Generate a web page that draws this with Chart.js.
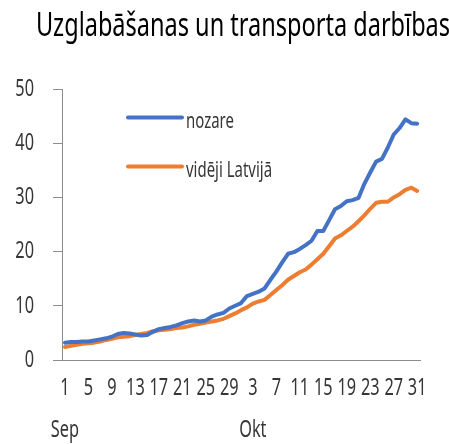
<!DOCTYPE html>
<html>
<head>
<meta charset="utf-8">
<script src="https://cdn.jsdelivr.net/npm/chart.js@4"></script>
<style>
  html, body { margin: 0; padding: 0; background: #fff; }
  #wrap { width: 449px; height: 444px; }
</style>
</head>
<body>
<div id="wrap"><canvas id="chart" width="449" height="444"></canvas></div>
<script>
// day of month for each point, Sep 1 .. Okt 31
const days = [
  1, 2, 3, 4, 5, 6, 7, 8, 9, 10, 11, 12, 13, 14, 15, 16, 17, 18, 19, 20,
  21, 22, 23, 24, 25, 26, 27, 28, 29, 30,
  1, 2, 3, 4, 5, 6, 7, 8, 9, 10, 11, 12, 13, 14, 15, 16, 17, 18, 19, 20,
  21, 22, 23, 24, 25, 26, 27, 28, 29, 30, 31
];
const months = ['Sep', 'Okt'];
const monthStarts = [0, 30];

const nozare = [
  3.2, 3.3, 3.3, 3.4, 3.4, 3.6, 3.8, 4.0, 4.3, 4.8,
  5.0, 4.9, 4.7, 4.5, 4.6, 5.2, 5.7, 5.9, 6.1, 6.4,
  6.8, 7.1, 7.3, 7.1, 7.3, 8.0, 8.4, 8.7, 9.5, 10.0,
  10.5, 11.8, 12.2, 12.6, 13.2, 14.8, 16.3, 18.0, 19.6, 19.9,
  20.5, 21.2, 22.0, 23.8, 23.8, 25.8, 27.8, 28.4, 29.3, 29.5,
  29.9, 32.5, 34.6, 36.6, 37.1, 39.2, 41.6, 42.8, 44.4, 43.7,
  43.6
];
const videjiLatvija = [
  2.4, 2.6, 2.8, 3.0, 3.1, 3.2, 3.4, 3.7, 3.9, 4.2,
  4.3, 4.4, 4.6, 4.8, 5.0, 5.3, 5.5, 5.6, 5.7, 5.9,
  6.0, 6.2, 6.5, 6.7, 6.9, 7.1, 7.3, 7.6, 8.1, 8.6,
  9.2, 9.7, 10.4, 10.8, 11.1, 12.0, 12.9, 13.8, 14.8, 15.5,
  16.2, 16.7, 17.6, 18.6, 19.6, 21.0, 22.4, 23.0, 23.8, 24.6,
  25.6, 26.7, 27.9, 29.0, 29.2, 29.2, 30.0, 30.6, 31.4, 31.8,
  31.2
];
const yTicks = [0, 10, 20, 30, 40, 50];
const title = 'Uzglabāšanas un transporta darbības';

const FONT = "'Noto Sans', 'Open Sans', sans-serif";
const TEXT = '#363636';
const AXIS = '#8c8c8c';
const NARROW = 0.68; // the original uses a condensed face
let squeeze = NARROW;

const canvas = document.getElementById('chart');
const c2d = canvas.getContext('2d');
// squeeze every label horizontally around its anchor point
const rawFillText = c2d.fillText.bind(c2d);
c2d.fillText = function (text, x, y) {
  this.save();
  this.translate(x, y);
  this.scale(squeeze, 1);
  rawFillText(text, 0, 0);
  this.restore();
};

function monthAt(i) {
  let m = 0;
  monthStarts.forEach((s, k) => { if (i >= s) m = k; });
  return months[m];
}

// title and legend placed like in the original
const decorations = {
  id: 'decorations',
  afterDraw(chart) {
    const { ctx, chartArea } = chart;
    ctx.save();
    ctx.fillStyle = '#000';
    ctx.font = '32px ' + FONT;
    ctx.textAlign = 'center';
    ctx.textBaseline = 'alphabetic';
    squeeze = 0.735;
    ctx.fillText(title, 243, 36);
    squeeze = NARROW;

    const x0 = chartArea.left + 66;
    const rows = [chartArea.top + 28.5, chartArea.top + 77.5];
    ctx.font = '22px ' + FONT;
    ctx.textAlign = 'left';
    ctx.fillStyle = TEXT;
    chart.data.datasets.forEach((ds, i) => {
      const y = rows[i];
      ctx.strokeStyle = ds.borderColor;
      ctx.lineWidth = 4;
      ctx.lineCap = 'round';
      ctx.beginPath();
      ctx.moveTo(x0, y);
      ctx.lineTo(x0 + 54, y);
      ctx.stroke();
      ctx.fillText(ds.label, x0 + 58, y + 10);
    });
    ctx.restore();
  }
};

new Chart(canvas, {
  type: 'line',
  data: {
    labels: days.map(String),
    datasets: [{
      label: 'nozare',
      data: nozare,
      borderColor: '#4472c4',
      borderWidth: 4,
      pointRadius: 0,
      tension: 0,
      borderJoinStyle: 'round',
      borderCapStyle: 'round'
    }, {
      label: 'vidēji Latvijā',
      data: videjiLatvija,
      borderColor: '#ed7d31',
      borderWidth: 4,
      pointRadius: 0,
      tension: 0,
      borderJoinStyle: 'round',
      borderCapStyle: 'round'
    }]
  },
  options: {
    responsive: false,
    animation: false,
    layout: { padding: { left: 0, right: 9, top: 89, bottom: 0 } },
    plugins: {
      legend: { display: false },
      tooltip: { enabled: false },
      title: { display: false }
    },
    scales: {
      x: {
        type: 'category',
        offset: true,
        afterFit(scale) { scale.height = 84; },
        grid: { display: false, drawTicks: false },
        border: { display: true, color: AXIS, width: 1 },
        ticks: {
          autoSkip: false,
          maxRotation: 0,
          padding: 18,
          color: TEXT,
          font: { family: FONT, size: 24, lineHeight: 0.875 },
          callback(value, index) {
            if (index % 4 !== 0) return null;
            const d = String(days[index]);
            const prev = index - 4;
            if (prev < 0 || monthAt(prev) !== monthAt(index)) {
              return [d, '', monthAt(index)];
            }
            return d;
          }
        }
      },
      y: {
        min: yTicks[0],
        max: yTicks[yTicks.length - 1],
        afterBuildTicks(scale) { scale.ticks = yTicks.map(v => ({ value: v })); },
        afterFit(scale) { scale.width = 62; },
        grid: { drawOnChartArea: false, drawTicks: true, tickLength: 9, color: AXIS, lineWidth: 1 },
        border: { display: true, color: AXIS, width: 1 },
        ticks: {
          padding: 19,
          color: TEXT,
          font: { family: FONT, size: 24 }
        }
      }
    }
  },
  plugins: [decorations]
});
</script>
</body>
</html>
